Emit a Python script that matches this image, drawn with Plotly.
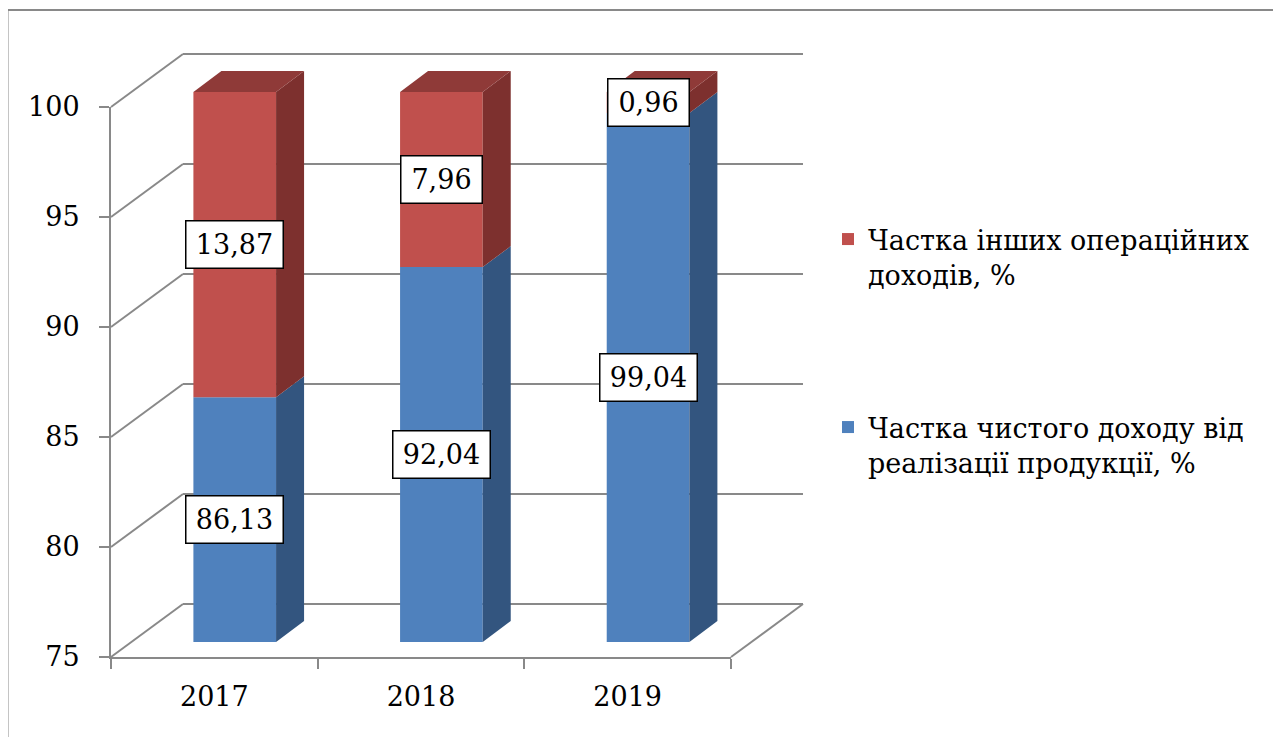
import numpy as np
import plotly.graph_objects as go

# ---- data ----
years = ["2017", "2018", "2019"]
net_sales_share = [86.13, 92.04, 99.04]      # blue
other_income_share = [13.87, 7.96, 0.96]     # red
y_ticks = [75, 80, 85, 90, 95, 100]
name_red = "Частка інших операційних<br>доходів, %"
name_blue = "Частка чистого доходу від<br>реалізації продукції, %"

PAD = 8                     # default body margin of the html page
W, H = 1281 - PAD, 737 - PAD
FONT = "DejaVu Serif"
GRID = "#898989"
BLUE, BLUE_SIDE = "#4F81BD", "#33557F"
RED, RED_SIDE, RED_TOP = "#C0504D", "#7D302E", "#8F3A38"

# geometry of the fake-3D box (screen pixels)
PX_CAT = 620 / 3          # px per category on the front plane
PX_VAL = 22.0             # px per percentage point
FX0, FY0 = 111, 657       # front-left floor corner
BAR_SHIFT = (20.4, 15)    # bar plane vs front plane (right, up)
BACK_SHIFT = (72, 53)     # back wall vs front plane
BAR_DEPTH = (28, 21)
BAR_W = 0.4
BASE, TOP = y_ticks[0], y_ticks[-1]


def px(x):
    return (x - PAD) / W


def py(y):
    return 1 - (y - PAD) / H


idx = np.arange(len(years))
blue = np.array(net_sales_share)
red = np.array(other_income_share)

# offsets expressed in bar-plane data units
fx, fy = -BAR_SHIFT[0] / PX_CAT, -BAR_SHIFT[1] / PX_VAL
bx, by = (BACK_SHIFT[0] - BAR_SHIFT[0]) / PX_CAT, (BACK_SHIFT[1] - BAR_SHIFT[1]) / PX_VAL
dx, dy = BAR_DEPTH[0] / PX_CAT, BAR_DEPTH[1] / PX_VAL

# subplot B (bar plane) pixel box
BL, BR, BT, BB = 50, 840, 20, 690
ox, oy = FX0 + BAR_SHIFT[0], FY0 - BAR_SHIFT[1]
x2_range = [-0.5 + (BL - ox) / PX_CAT, -0.5 + (BR - ox) / PX_CAT]
y2_range = [BASE - (BB - oy) / PX_VAL, BASE + (oy - BT) / PX_VAL]

fig = go.Figure()

# invisible trace so the front axes get drawn
fig.add_trace(go.Scatter(x=idx, y=blue, mode="markers", marker=dict(opacity=0),
                         showlegend=False, hoverinfo="skip", xaxis="x", yaxis="y"))

fig.add_trace(go.Bar(x=idx, y=blue - BASE, base=BASE, width=BAR_W,
                     marker=dict(color=BLUE, line=dict(width=0)),
                     name=name_blue, legend="legend2",
                     xaxis="x2", yaxis="y2", hoverinfo="skip"))
fig.add_trace(go.Bar(x=idx, y=red, base=blue, width=BAR_W,
                     marker=dict(color=RED, line=dict(width=0)),
                     name=name_red, legend="legend",
                     xaxis="x2", yaxis="y2", hoverinfo="skip"))


def side_poly(lo, hi):
    xs, ys = [], []
    for i, (b, t) in enumerate(zip(lo, hi)):
        r = i + BAR_W / 2
        xs += [r, r + dx, r + dx, r, r, None]
        ys += [b, b + dy, t + dy, t, b, None]
    return xs, ys


def top_poly(hi):
    xs, ys = [], []
    for i, t in enumerate(hi):
        l, r = i - BAR_W / 2, i + BAR_W / 2
        xs += [l, l + dx, r + dx, r, l, None]
        ys += [t, t + dy, t + dy, t, t, None]
    return xs, ys


for (xs, ys), col in [(side_poly([BASE] * 3, blue), BLUE_SIDE),
                      (side_poly(blue, blue + red), RED_SIDE),
                      (top_poly(blue + red), RED_TOP)]:
    fig.add_trace(go.Scatter(x=xs, y=ys, mode="lines", fill="toself",
                             fillcolor=col, line=dict(width=0, color=col),
                             showlegend=False, hoverinfo="skip",
                             xaxis="x2", yaxis="y2"))

shapes = []
line = dict(color=GRID, width=2)
for v in y_ticks:
    shapes.append(dict(type="line", xref="x2", yref="y2", layer="below",
                       x0=-0.5 + bx, x1=len(years) - 0.5 + bx, y0=v + by, y1=v + by, line=line))
    shapes.append(dict(type="line", xref="x2", yref="y2", layer="below",
                       x0=-0.5 + fx, x1=-0.5 + bx, y0=v + fy, y1=v + by, line=line))
shapes.append(dict(type="line", xref="x2", yref="y2", layer="below",
                   x0=len(years) - 0.5 + fx, x1=len(years) - 0.5 + bx,
                   y0=BASE + fy, y1=BASE + by, line=line))
# outer chart border (left + top)
shapes.append(dict(type="line", xref="paper", yref="paper", x0=px(7.5), x1=px(7.5),
                   y0=0, y1=py(10), line=line))
shapes.append(dict(type="line", xref="paper", yref="paper", x0=px(7.5), x1=1,
                   y0=py(10), y1=py(10), line=line))


def fmt(v):
    return f"{v:.2f}".replace(".", ",")


annotations = []
for i in idx:
    for lo, hi, val in [(BASE, blue[i], blue[i]), (blue[i], blue[i] + red[i], red[i])]:
        txt = fmt(val)
        w = 16 * (len(txt) - 1) + 8 + 22
        annotations.append(dict(x=i, y=(lo + hi) / 2, xref="x2", yref="y2", text=txt,
                                showarrow=False, bgcolor="white", bordercolor="black",
                                borderwidth=1.5, borderpad=1, width=w, height=44,
                                font=dict(family=FONT, size=27, color="black")))

legend_style = dict(xanchor="left", yanchor="top", valign="top",
                    bgcolor="rgba(0,0,0,0)",
                    font=dict(family=FONT, size=27, color="black"))

fig.update_layout(
    width=W, height=H,
    margin=dict(l=0, r=0, t=0, b=0),
    paper_bgcolor="white", plot_bgcolor="rgba(0,0,0,0)",
    barmode="overlay",
    showlegend=True,
    font=dict(family=FONT, size=26, color="black"),
    xaxis=dict(domain=[px(FX0), px(FX0 + 3 * PX_CAT)], anchor="y",
               range=[-0.5, len(years) - 0.5], tickvals=list(idx), ticktext=years,
               ticks="", showline=True, linecolor=GRID, linewidth=2,
               showgrid=False, zeroline=False, automargin=False,
               ticklabelstandoff=15,
               minor=dict(tickvals=[-0.5, 0.5, 1.5, 2.5], ticks="outside", ticklen=10,
                          tickwidth=2, tickcolor=GRID, showgrid=False),
               tickfont=dict(family=FONT, size=27, color="black")),
    yaxis=dict(domain=[py(FY0), py(FY0 - (TOP - BASE) * PX_VAL)], anchor="x",
               range=[BASE, TOP], tickvals=y_ticks, ticks="outside", ticklen=10,
               tickwidth=2, tickcolor=GRID, showline=True, linecolor=GRID, linewidth=2,
               showgrid=False, zeroline=False, automargin=False, ticklabelstandoff=14,
               tickfont=dict(family=FONT, size=27, color="black")),
    xaxis2=dict(domain=[px(BL), px(BR)], anchor="y2", range=x2_range, visible=False),
    yaxis2=dict(domain=[py(BB), py(BT)], anchor="x2", range=y2_range, visible=False),
    legend=dict(x=px(828), y=py(215), **legend_style),
    legend2=dict(x=px(828), y=py(403), **legend_style),
    shapes=shapes,
    annotations=annotations,
)

fig.write_html("out.html")
